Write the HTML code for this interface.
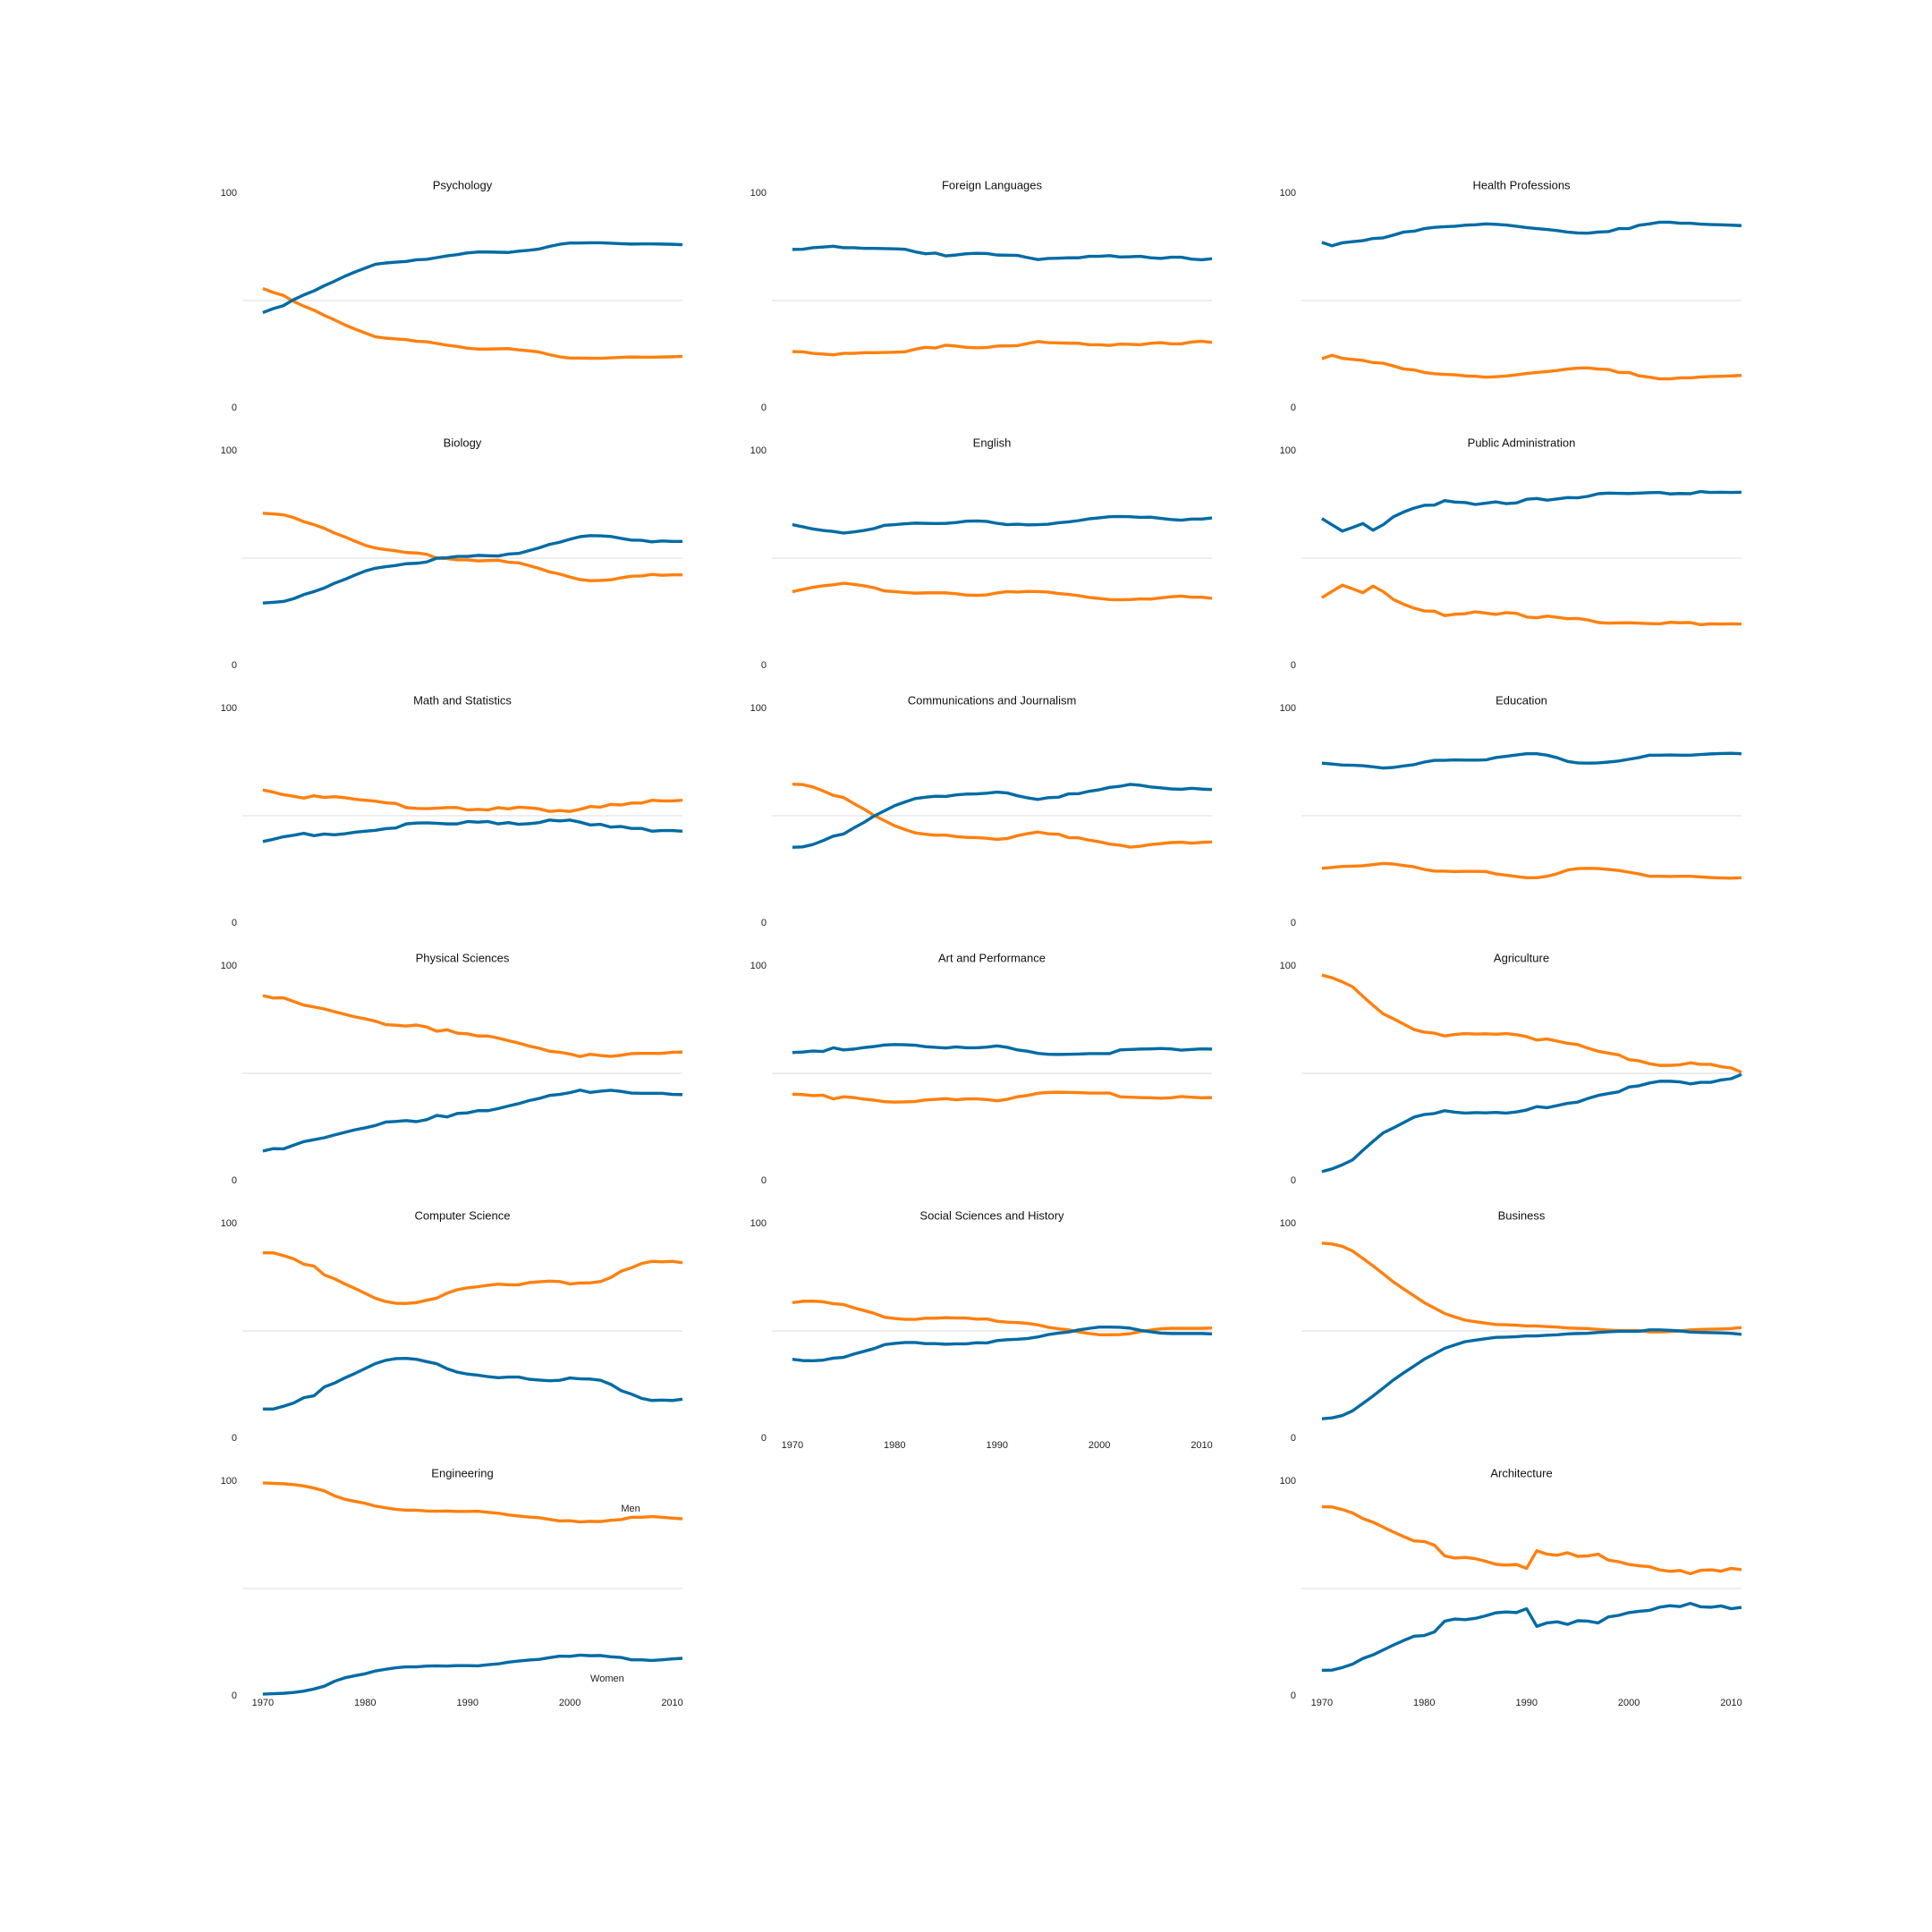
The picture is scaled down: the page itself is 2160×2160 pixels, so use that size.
<!DOCTYPE html>
<html><head><meta charset="utf-8"><title>Percentage of bachelor's degrees awarded to women and men in the US, 1970–2011</title>
<style>
html,body{margin:0;padding:0;background:#fff;}
svg{display:block;font-family:"Liberation Sans","DejaVu Sans",sans-serif;}
</style></head>
<body>
<svg id="chart" width="2160" height="2160" viewBox="0 0 2160 2160" xmlns="http://www.w3.org/2000/svg"></svg>
<script>
const years = [1970,1971,1972,1973,1974,1975,1976,1977,1978,1979,1980,1981,1982,1983,1984,1985,1986,1987,1988,1989,1990,1991,1992,1993,1994,1995,1996,1997,1998,1999,2000,2001,2002,2003,2004,2005,2006,2007,2008,2009,2010,2011];
const yearTicks = [1970,1980,1990,2000,2010];
const valueTicks = [0,100];
const psychology = [44.4,46.2,47.6,50.4,52.6,54.5,56.9,59.0,61.3,63.3,65.1,66.9,67.5,67.9,68.2,69.0,69.2,70.0,70.8,71.4,72.2,72.6,72.6,72.5,72.4,73.0,73.4,74.0,75.2,76.2,76.8,76.8,76.9,76.9,76.7,76.5,76.3,76.4,76.4,76.3,76.2,76.0];
const biology = [29.1,29.4,29.8,31.1,33.0,34.4,36.1,38.3,40.1,42.1,44.0,45.3,46.0,46.6,47.4,47.6,48.2,50.0,50.2,50.8,50.8,51.3,51.1,51.0,51.9,52.2,53.5,54.8,56.4,57.4,58.8,60.0,60.5,60.4,60.1,59.2,58.4,58.3,57.6,58.0,57.8,57.8];
const mathStats = [38.0,39.0,40.2,40.9,41.8,40.7,41.5,41.1,41.6,42.3,42.8,43.2,44.0,44.3,46.2,46.6,46.7,46.5,46.2,46.2,47.3,47.0,47.3,46.2,46.8,46.0,46.3,46.8,48.0,47.6,48.0,47.0,45.7,46.0,44.7,45.0,44.1,44.1,42.8,43.1,43.1,42.8];
const physicalSciences = [13.8,14.9,14.8,16.5,18.2,19.1,20.0,21.3,22.5,23.7,24.6,25.7,27.3,27.6,28.0,27.5,28.4,30.4,29.7,31.3,31.6,32.6,32.6,33.6,34.8,35.9,37.3,38.3,39.7,40.2,41.0,42.2,41.1,41.7,42.1,41.6,40.8,40.7,40.7,40.7,40.2,40.1];
const computerScience = [13.6,13.6,14.9,16.4,18.9,19.8,23.9,25.7,28.1,30.2,32.5,34.8,36.3,37.1,37.2,36.8,35.7,34.7,32.4,30.8,29.9,29.4,28.7,28.2,28.5,28.5,27.5,27.1,26.8,27.0,28.1,27.7,27.6,27.0,25.1,22.2,20.6,18.6,17.6,17.8,17.6,18.2];
const engineering = [0.8,1.0,1.2,1.6,2.2,3.2,4.5,6.8,8.4,9.4,10.3,11.6,12.4,13.1,13.5,13.5,13.9,14.0,13.9,14.1,14.1,14.0,14.5,14.9,15.7,16.2,16.7,17.0,17.8,18.5,18.4,19.0,18.7,18.8,18.2,17.9,16.8,16.8,16.5,16.8,17.2,17.5];
const foreignLanguages = [73.8,73.9,74.6,74.9,75.3,74.6,74.6,74.3,74.3,74.2,74.1,73.9,72.7,71.8,72.1,70.8,71.2,71.8,72.0,71.9,71.2,71.1,71.0,70.0,69.1,69.6,69.7,69.9,69.9,70.6,70.6,70.9,70.3,70.4,70.6,69.9,69.6,70.2,70.2,69.3,69.0,69.5];
const english = [65.6,64.6,63.6,62.9,62.4,61.7,62.2,62.9,63.8,65.3,65.6,66.0,66.3,66.2,66.1,66.2,66.6,67.2,67.3,67.1,66.2,65.6,65.8,65.5,65.6,65.8,66.5,66.9,67.5,68.3,68.8,69.3,69.4,69.3,69.0,69.1,68.5,68.0,67.7,68.2,68.2,68.7];
const commJournalism = [35.3,35.5,36.6,38.4,40.5,41.5,44.3,46.9,49.9,52.3,54.7,56.4,58.0,58.6,59.1,59.0,59.7,60.1,60.2,60.5,61.0,60.6,59.3,58.3,57.6,58.4,58.6,60.2,60.3,61.4,62.1,63.2,63.7,64.6,64.2,63.4,63.0,62.5,62.3,62.8,62.4,62.2];
const artPerformance = [59.7,59.9,60.4,60.2,61.9,60.9,61.3,62.0,62.5,63.2,63.4,63.3,63.1,62.4,62.1,61.8,62.3,61.9,61.9,62.2,62.8,62.1,60.9,60.3,59.3,58.9,58.8,58.9,59.0,59.2,59.2,59.2,60.9,61.1,61.3,61.4,61.6,61.4,60.8,61.1,61.4,61.3];
const socialSciences = [36.8,36.2,36.1,36.4,37.3,37.7,39.2,40.5,41.8,43.6,44.2,44.6,44.6,44.1,44.1,43.8,44.0,44.0,44.5,44.4,45.5,45.9,46.1,46.5,47.2,48.3,49.0,49.5,50.5,51.2,51.8,51.8,51.7,51.3,50.3,49.6,49.0,48.8,48.8,48.8,48.8,48.6];
const healthProfessions = [77.1,75.5,76.9,77.4,77.9,78.9,79.2,80.5,81.9,82.3,83.5,84.1,84.4,84.6,85.1,85.3,85.7,85.5,85.2,84.6,84.0,83.5,83.1,82.6,81.9,81.5,81.4,81.9,82.1,83.5,83.5,85.1,85.7,86.5,86.5,86.0,86.0,85.6,85.4,85.3,85.1,84.9];
const publicAdmin = [68.4,65.5,62.6,64.3,66.1,63.0,65.6,69.3,71.5,73.3,74.6,74.7,76.8,76.1,75.9,75.0,75.6,76.2,75.4,75.7,77.4,77.8,77.0,77.6,78.2,78.1,78.8,80.0,80.3,80.2,80.1,80.3,80.5,80.6,79.9,80.1,80.0,81.0,80.6,80.7,80.6,80.7];
const education = [74.5,74.1,73.6,73.5,73.3,72.8,72.2,72.5,73.2,73.8,75.0,75.8,75.8,76.0,75.9,75.9,76.0,77.1,77.7,78.3,78.9,78.9,78.2,77.0,75.3,74.6,74.5,74.6,75.0,75.5,76.3,77.1,78.2,78.2,78.3,78.2,78.2,78.5,78.8,79.0,79.1,78.9];
const agriculture = [4.2,5.5,7.4,9.7,14.1,18.3,22.3,24.6,27.1,29.6,30.8,31.3,32.6,31.9,31.5,31.7,31.6,31.8,31.5,32.0,32.9,34.5,34.0,35.0,36.0,36.6,38.3,39.7,40.6,41.4,43.6,44.2,45.5,46.3,46.3,46.0,45.1,45.8,45.8,46.9,47.5,49.5];
const business = [9.1,9.5,10.6,12.8,16.2,19.7,23.4,27.2,30.5,33.6,36.8,39.3,41.9,43.5,45.0,45.7,46.4,47.0,47.1,47.3,47.7,47.7,48.0,48.2,48.6,48.8,48.9,49.3,49.6,49.8,49.8,49.8,50.5,50.5,50.3,50.0,49.5,49.3,49.2,49.1,48.9,48.4];
const architecture = [11.9,12.0,13.2,14.8,17.4,19.1,21.4,23.7,25.8,27.8,28.1,29.8,34.8,35.8,35.5,36.1,37.3,38.7,39.1,38.8,40.6,32.4,34.0,34.5,33.3,35.0,34.8,34.0,36.8,37.5,38.8,39.4,39.8,41.3,42.0,41.6,43.1,41.5,41.3,41.9,40.6,41.2];

const panels = [
  {title:"Psychology", women:psychology, col:0, row:0, xlabels:false},
  {title:"Biology", women:biology, col:0, row:1, xlabels:false},
  {title:"Math and Statistics", women:mathStats, col:0, row:2, xlabels:false},
  {title:"Physical Sciences", women:physicalSciences, col:0, row:3, xlabels:false},
  {title:"Computer Science", women:computerScience, col:0, row:4, xlabels:false},
  {title:"Engineering", women:engineering, col:0, row:5, xlabels:true, legend:true},
  {title:"Foreign Languages", women:foreignLanguages, col:1, row:0, xlabels:false},
  {title:"English", women:english, col:1, row:1, xlabels:false},
  {title:"Communications and Journalism", women:commJournalism, col:1, row:2, xlabels:false},
  {title:"Art and Performance", women:artPerformance, col:1, row:3, xlabels:false},
  {title:"Social Sciences and History", women:socialSciences, col:1, row:4, xlabels:true},
  {title:"Health Professions", women:healthProfessions, col:2, row:0, xlabels:false},
  {title:"Public Administration", women:publicAdmin, col:2, row:1, xlabels:false},
  {title:"Education", women:education, col:2, row:2, xlabels:false},
  {title:"Agriculture", women:agriculture, col:2, row:3, xlabels:false},
  {title:"Business", women:business, col:2, row:4, xlabels:false},
  {title:"Architecture", women:architecture, col:2, row:5, xlabels:true}
];

const NS = "http://www.w3.org/2000/svg";
const svg = document.getElementById("chart");
const BLUE = "#006BA4", ORANGE = "#FF800E";
const X_MIN = 1968, X_MAX = 2011;
const PW = 492, PH = 240;

function mk(tag, attrs, parent){
  const e = document.createElementNS(NS, tag);
  for (const k in attrs) e.setAttribute(k, attrs[k]);
  parent.appendChild(e);
  return e;
}
function slug(s){ return s.toLowerCase().replace(/[^a-z0-9]+/g,'-').replace(/-$/,''); }

panels.forEach(p => {
  const left = 271 + p.col * 592;
  const top = 216 + p.row * 288;
  const xs = yr => left + (yr - X_MIN) / (X_MAX - X_MIN) * PW;
  const ys = v => top + (100 - v) / 100 * PH;
  const g = mk("g", {}, svg);
  
  

  const grid = mk("line", {x1:left, x2:left+PW, y1:ys(50), y2:ys(50), stroke:"#e3e3e3", "stroke-width":1.3}, g);
  
  

  valueTicks.forEach(v => {
    const t = mk("text", {x:left-6, y:ys(v), "text-anchor":"end", "dominant-baseline":"central", "font-size":11, fill:"#222"}, g);
    t.textContent = String(v);
    
    
  });

  const title = mk("text", {x:left+PW/2, y:top-9, "text-anchor":"middle", "dominant-baseline":"central", "font-size":13, fill:"#111"}, g);
  title.textContent = p.title;
  
  

  const men = p.women.map(v => 100 - v);
  const pathFor = arr => arr.map((v,i) => (i ? "L" : "M") + xs(years[i]).toFixed(2) + " " + ys(v).toFixed(2)).join(" ");

  const menLine = mk("path", {d:pathFor(men), fill:"none", stroke:ORANGE, "stroke-width":3.4, "stroke-linejoin":"round", "stroke-linecap":"butt"}, g);
  
  
  const womenLine = mk("path", {d:pathFor(p.women), fill:"none", stroke:BLUE, "stroke-width":3.4, "stroke-linejoin":"round", "stroke-linecap":"butt"}, g);
  
  

  if (p.xlabels){
    yearTicks.forEach(yr => {
      const t = mk("text", {x:xs(yr), y:top+PH+8, "text-anchor":"middle", "dominant-baseline":"central", "font-size":11, fill:"#222"}, g);
      t.textContent = String(yr);
      
      
    });
  }
  if (p.legend){
    const m = mk("text", {x:xs(2005), y:ys(87), "text-anchor":"start", "dominant-baseline":"central", "font-size":11, fill:"#222"}, g);
    m.textContent = "Men";
    
    
    const w = mk("text", {x:xs(2002), y:ys(8), "text-anchor":"start", "dominant-baseline":"central", "font-size":11, fill:"#222"}, g);
    w.textContent = "Women";
    
    
  }
});
</script>
</body></html>
